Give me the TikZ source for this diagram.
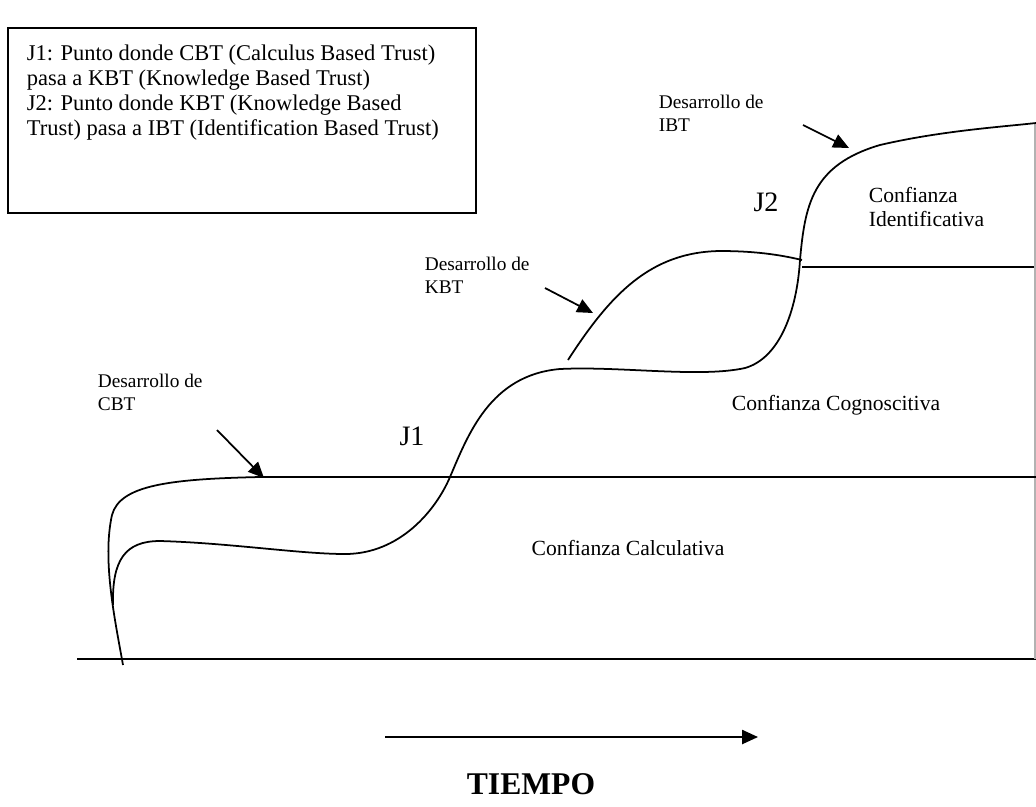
\documentclass[tikz,border=0pt]{standalone}
\usepackage{fontspec}
\setmainfont{Liberation Serif}
\usepackage{tikz}
\usetikzlibrary{arrows.meta,positioning}

\tikzset{
  notetext/.style={font=\fontsize{12.8}{14.3}\selectfont, align=left, inner sep=0pt},
  devlabel/.style={font=\fontsize{11}{13}\selectfont, align=left, inner sep=0pt},
  zonelabel/.style={font=\fontsize{12.3}{14}\selectfont, align=left, inner sep=0pt},
  jumplabel/.style={font=\fontsize{16}{18}\selectfont, inner sep=0pt},
  pointer/.style={-{Triangle[length=9pt,width=8pt]}, line width=1pt},
}

\begin{document}
\begin{tikzpicture}[x=0.02cm,y=-0.02cm,line width=1pt]
\useasboundingbox (0,0) rectangle (1036,806);

			% legend box
			\node [draw, line width=1.2pt, anchor=north west, minimum width=9.36cm, minimum height=3.7cm, inner sep=0pt] (legend) at (7,27) {};
			\node [notetext, anchor=north west] (legendtxt) at (26,44) {J1: Punto donde CBT (Calculus Based Trust)\\pasa a KBT (Knowledge Based Trust)\\J2: Punto donde KBT (Knowledge Based\\Trust) pasa a IBT (Identification Based Trust)};

			% axes and levels
			\coordinate (base0) at (77,659);
			\coordinate (base1) at (1036,659);
			\coordinate (cbt0) at (260,477);
			\coordinate (cbt1) at (1036,477);
			\coordinate (kbt0) at (802,267);
			\coordinate (kbt1) at (1036,267);
			\coordinate (edge0) at (1035,123);
			\coordinate (edge1) at (1035,659);
			\draw (base0) -- (base1);
			\draw (kbt0) -- (kbt1);
			\draw [gray!60, line width=0.6pt] (edge0) -- (edge1);

			% development curves
			\draw (123,665) .. controls (115,620) and (102,560) .. (112,515)
			      .. controls (120,485) and (170,479) .. (cbt0) -- (cbt1);
			\draw (113,605) .. controls (112,560) and (125,541) .. (160,541)
			      .. controls (230,543) and (300,554) .. (345,554)
			      .. controls (400,554) and (436,510) .. (450,477)
			      .. controls (468,435) and (490,375) .. (560,369)
			      .. controls (620,366) and (700,378) .. (745,368)
			      .. controls (780,358) and (797,310) .. (800,260)
			      .. controls (805,205) and (812,165) .. (880,145)
			      .. controls (940,131) and (1000,127) .. (1036,123);
			\draw (568,360) .. controls (610,295) and (650,252) .. (720,251)
			      .. controls (760,251) and (785,256) .. (802,260);

			% labels
			\node [devlabel, anchor=west] (devcbt) at (97,392) {Desarrollo de\\CBT};
			\node [devlabel, anchor=west] (devkbt) at (424,275) {Desarrollo de\\KBT};
			\node [devlabel, anchor=west] (devibt) at (658,113) {Desarrollo de\\IBT};
			\node [jumplabel] (jone) at (412,436) {J1};
			\node [jumplabel] (jtwo) at (766,202) {J2};
			\node [zonelabel, anchor=west] (zoneid) at (868,207) {Confianza\\Identificativa};
			\node [zonelabel] (zonecog) at (836,405) {Confianza Cognoscitiva};
			\node [zonelabel] (zonecalc) at (628,548) {Confianza Calculativa};
			\node [font=\fontsize{18}{20}\selectfont\bfseries, inner sep=0pt] (tiempo) at (531,784) {TIEMPO};

			% pointers
			\coordinate (cbtfrom) at (217,430);
			\coordinate (cbtto) at (264,478);
			\coordinate (kbtfrom) at (545,288);
			\coordinate (kbtto) at (593,313);
			\coordinate (ibtfrom) at (803,125);
			\coordinate (ibtto) at (849,148);
			\coordinate (timefrom) at (385,737);
			\coordinate (timeto) at (758,737);
			\draw [pointer] (cbtfrom) -- (cbtto);
			\draw [pointer] (kbtfrom) -- (kbtto);
			\draw [pointer] (ibtfrom) -- (ibtto);
			\draw [pointer] (timefrom) -- (timeto);
\end{tikzpicture}
\end{document}
